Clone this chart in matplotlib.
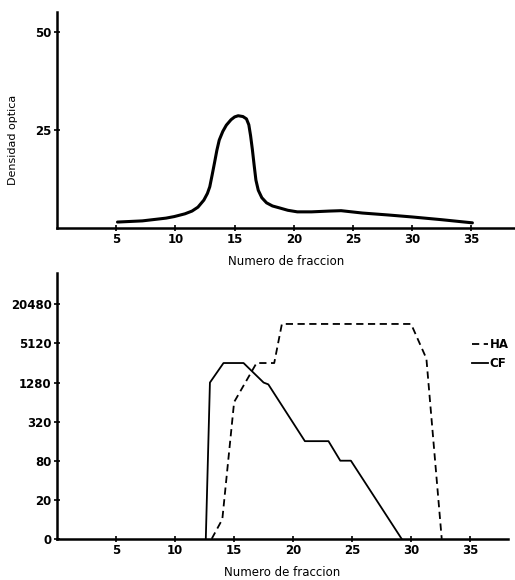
import numpy as np
from matplotlib import pyplot as plt

plt.rcParams['font.family'] = 'DejaVu Sans'

# densidad optica (top panel)
frac_top = [5.1, 7.2, 9.2, 9.9, 10.8, 11.4, 11.9, 12.4, 12.7, 12.9, 13.1, 13.3, 13.5,
            13.7, 14.0, 14.3, 14.7, 15.0, 15.3, 15.7, 16.0, 16.2, 16.35, 16.5, 16.65,
            16.8, 17.0, 17.3, 17.7, 18.2, 18.8, 19.5, 20.3, 21.5, 23.0, 24.0, 25.8,
            28.0, 30.0, 32.5, 35.1]
densidad = [1.5, 1.8, 2.5, 2.9, 3.6, 4.3, 5.3, 7.1, 8.8, 10.5, 13.5, 16.6, 19.8,
            22.4, 24.6, 26.2, 27.6, 28.3, 28.6, 28.4, 27.8, 26.3, 23.5, 20.0, 16.0,
            12.2, 9.6, 7.7, 6.4, 5.6, 5.1, 4.5, 4.1, 4.1, 4.3, 4.4, 3.8,
            3.3, 2.8, 2.1, 1.3]

# titres (bottom panel)
frac_ha = [13.1, 14.0, 15.0, 16.9, 18.4, 19.05, 30.0, 31.3, 32.6]
titre_ha = [0, 10, 640, 2560, 2560, 10240, 10240, 3000, 0]
frac_cf = [12.6, 12.95, 14.1, 15.8, 17.5, 17.9, 21.0, 23.0, 24.0, 24.9, 29.2]
titre_cf = [0, 1280, 2560, 2560, 1280, 1200, 160, 160, 80, 80, 0]

titre_ticks = [0, 20, 80, 320, 1280, 5120, 20480]
x_ticks = [5, 10, 15, 20, 25, 30, 35]


def fwd(v):
    v = np.asarray(v, dtype=float)
    lg = 1 + np.log(np.maximum(v, 1e-9) / 20) / np.log(4)
    return np.where(v < 20, v / 20, lg)


def inv(l):
    l = np.asarray(l, dtype=float)
    return np.where(l < 1, l * 20, 20 * 4.0 ** (l - 1))


fig = plt.figure(figsize=(5.15, 5.8), dpi=100)
ax1 = fig.add_axes([0.111, 0.607, 0.889, 0.372])
ax2 = fig.add_axes([0.111, 0.071, 0.875, 0.458])

for ax in (ax1, ax2):
    ax.spines['top'].set_visible(False)
    ax.spines['right'].set_visible(False)
    ax.spines['left'].set_linewidth(1.8)
    ax.spines['bottom'].set_linewidth(1.8)
    ax.tick_params(direction='inout', length=4, width=1.2, labelsize=8.5, pad=2)
    ax.set_xticks(x_ticks)
    ax.set_xlabel('Numero de fraccion', fontsize=8.5, labelpad=6)

ax1.plot(frac_top, densidad, color='black', lw=2.2, solid_capstyle='round',
         solid_joinstyle='round')
ax1.set_xlim(0, 38.7)
ax1.set_ylim(0, 55)
ax1.set_yticks([25, 50])
ax1.set_ylabel('Densidad optica', fontsize=8)
ax1.yaxis.set_label_coords(-0.085, 0.41)

ax2.set_yscale('function', functions=(fwd, inv))
ax2.plot(frac_ha, titre_ha, color='black', lw=1.3, ls=(0, (4, 2.5)), label='HA')
ax2.plot(frac_cf, titre_cf, color='black', lw=1.3, label='CF')
ax2.set_xlim(0, 38.2)
ax2.set_ylim(0, float(inv(6.8)))
ax2.set_yticks(titre_ticks)
ax2.set_yticklabels([str(t) for t in titre_ticks])
ax2.yaxis.set_minor_locator(plt.NullLocator())

for ax in (ax1, ax2):
    for lab in ax.get_xticklabels() + ax.get_yticklabels():
        lab.set_fontweight('bold')

leg = ax2.legend(loc='upper left', bbox_to_anchor=(0.92, 0.755), frameon=False,
                 handlelength=1.4, handletextpad=0.1, fontsize=8.5,
                 labelspacing=0.5, borderpad=0, borderaxespad=0)
for t in leg.get_texts():
    t.set_fontweight('bold')

fig.savefig('out.png', dpi=100)
